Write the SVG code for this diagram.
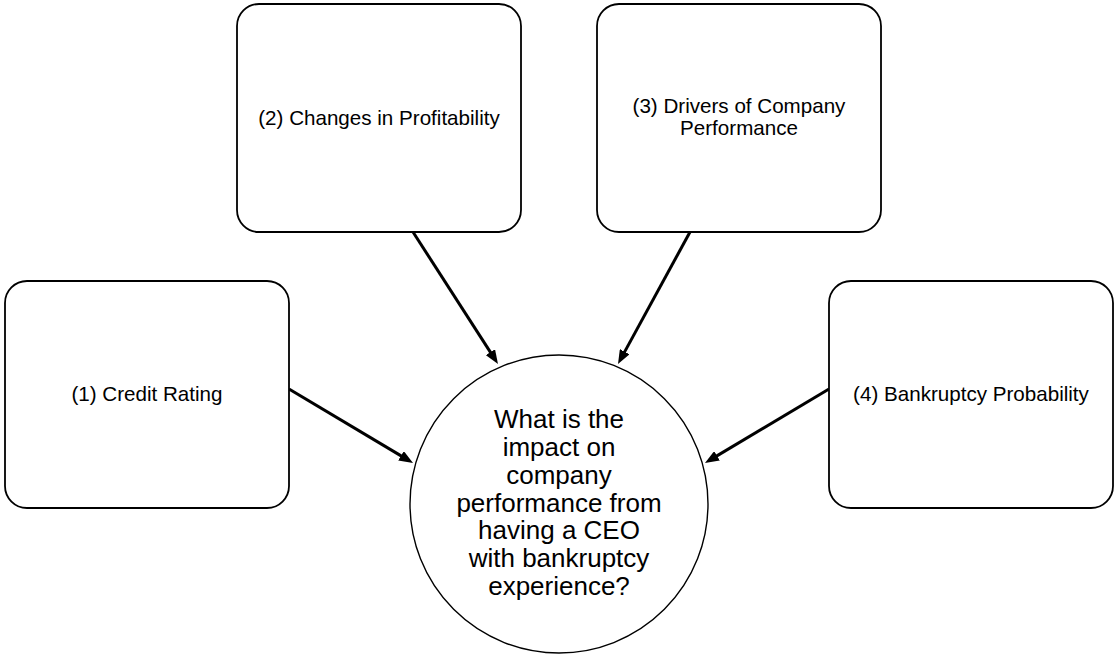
<svg xmlns="http://www.w3.org/2000/svg" width="1114" height="655" viewBox="0 0 1114 655">
  <style>
    .box { fill: #ffffff; stroke: #000000; stroke-width: 1.8; }
    .hub { fill: #ffffff; stroke: #000000; stroke-width: 1.4; }
    .label { font-family: "Liberation Sans", Arial, Helvetica, sans-serif; font-size: 20.6px; fill: #000000; text-anchor: middle; }
    .hub-label { font-family: "Liberation Sans", Arial, Helvetica, sans-serif; font-size: 26px; fill: #000000; text-anchor: middle; }
    .link { stroke: #000000; stroke-width: 3; fill: none; marker-end: url(#arrow); }
  </style>
  <defs>
    <marker id="arrow" viewBox="0 0 14 11" markerWidth="14" markerHeight="11" markerUnits="userSpaceOnUse" refX="5" refY="5.5" orient="auto">
      <path d="M0,0 L14,5.5 L0,11 z" fill="#000000"/>
    </marker>
  </defs>
  <rect width="1114" height="655" fill="#ffffff"/>

  <!-- connectors: each factor points at the central question -->
  <g id="connectors">
    <line class="link" x1="289" y1="389" x2="405.3" y2="458.4"/>
    <line class="link" x1="413" y1="232" x2="493.1" y2="356.4"/>
    <line class="link" x1="690" y1="232" x2="622.3" y2="356.1"/>
    <line class="link" x1="829" y1="389" x2="712.7" y2="458.4"/>
  </g>

  <g id="node-credit-rating">
    <rect class="box" x="5" y="281" width="284" height="227" rx="22" ry="22"/>
    <text class="label" x="147" y="401">(1) Credit Rating</text>
  </g>

  <g id="node-profitability">
    <rect class="box" x="237" y="4" width="284" height="228" rx="22" ry="22"/>
    <text class="label" x="379" y="125">(2) Changes in Profitability</text>
  </g>

  <g id="node-drivers">
    <rect class="box" x="597" y="4" width="284" height="228" rx="22" ry="22"/>
    <text class="label" x="739" y="113">(3) Drivers of Company</text>
    <text class="label" x="739" y="135">Performance</text>
  </g>

  <g id="node-bankruptcy">
    <rect class="box" x="829" y="281" width="284" height="227" rx="22" ry="22"/>
    <text class="label" x="971" y="401">(4) Bankruptcy Probability</text>
  </g>

  <g id="node-question">
    <circle class="hub" cx="559" cy="504" r="149"/>
    <text class="hub-label" x="559" y="428">What is the</text>
    <text class="hub-label" x="559" y="456">impact on</text>
    <text class="hub-label" x="559" y="484">company</text>
    <text class="hub-label" x="559" y="512">performance from</text>
    <text class="hub-label" x="559" y="539">having a CEO</text>
    <text class="hub-label" x="559" y="567">with bankruptcy</text>
    <text class="hub-label" x="559" y="595">experience?</text>
  </g>
</svg>
